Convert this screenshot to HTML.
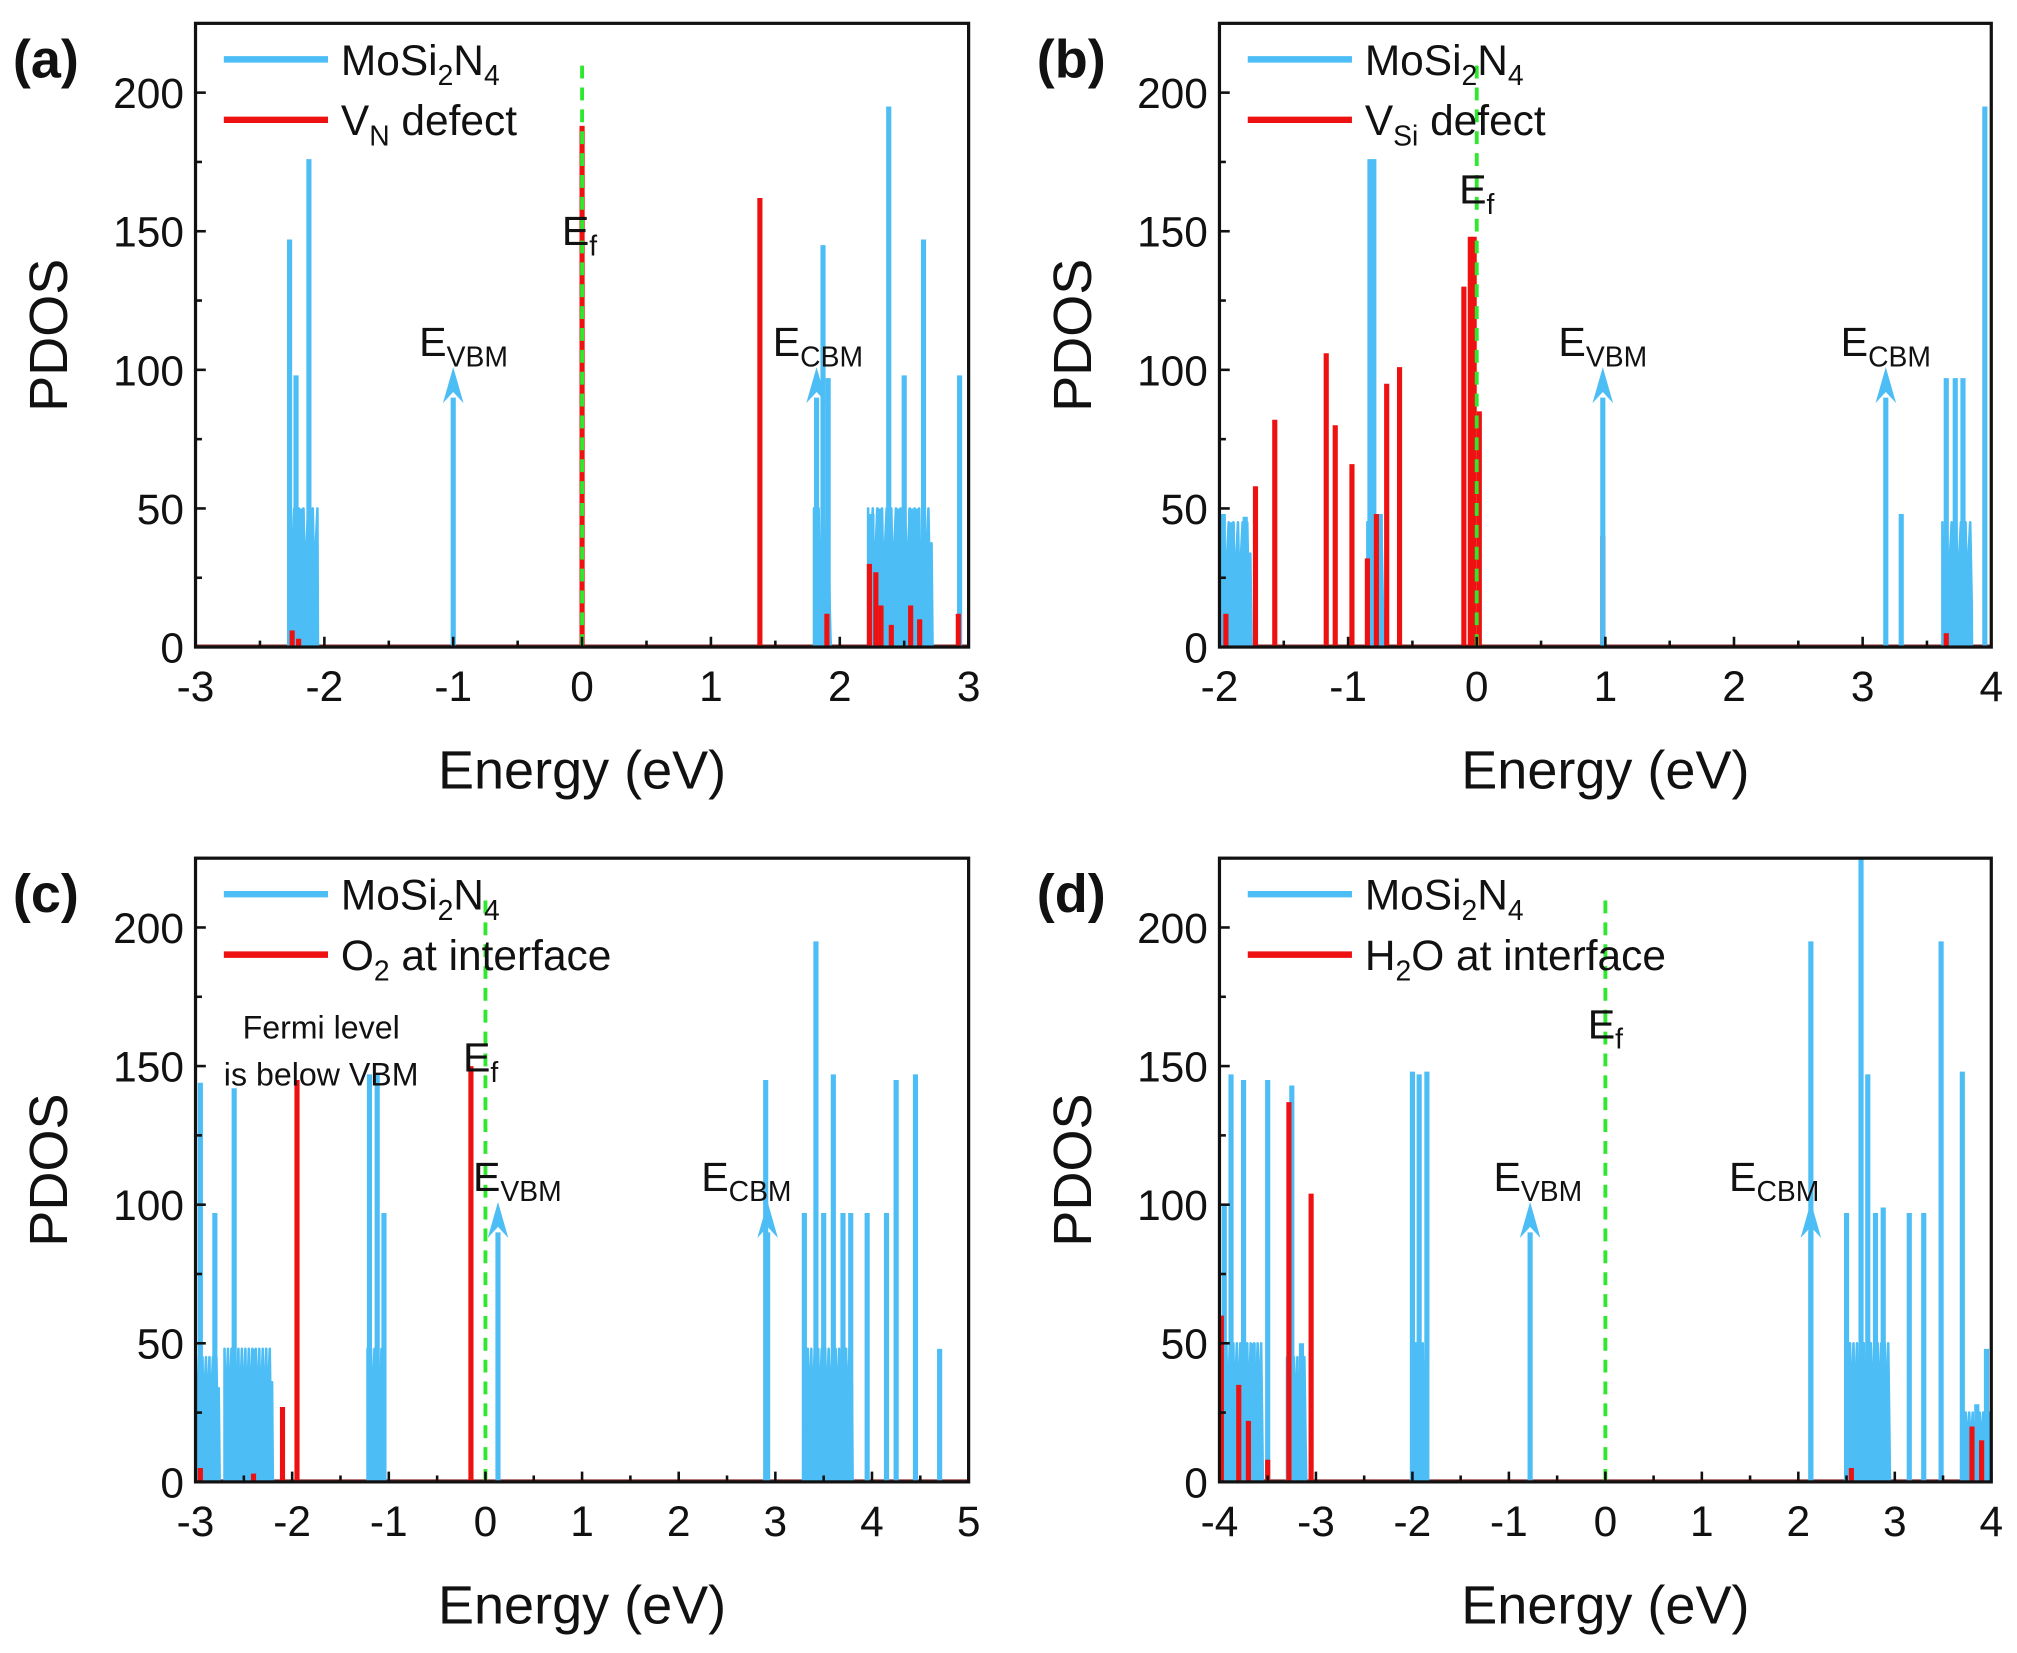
<!DOCTYPE html>
<html><head><meta charset="utf-8"><style>
html,body{margin:0;padding:0;background:#fff;}
svg{display:block;}
text{font-family:"Liberation Sans",Arial,sans-serif;fill:#111;}
</style></head><body>
<svg id="s" width="2017" height="1653" viewBox="0 0 1568 1285" xmlns="http://www.w3.org/2000/svg"></svg>
<script>
const S=document.getElementById('s');let h='';
const B='#4dbdf5',R='#ee1111';
function panel(o){
 const {x0,x1,y0,xmin,xmax,lab}=o;
 const ybot=y0, yt=y0-225*2.155;
 const X=e=>x0+(e-xmin)/(xmax-xmin)*(x1-x0), Y=v=>ybot-v*2.155;
 h+=`<line x1="${x0}" y1="${ybot-1}" x2="${x1}" y2="${ybot-1}" stroke="#8a2a2a" stroke-width="2"/>`;
 o.bfill&&o.bfill.forEach(([a,b,v])=>{let p=`${X(a)},${ybot} `;let i=0;
  for(let e=a;e<=b+1e-9;e+=0.012){const f=(i%3==0)?1:(i%3==1?0.35:0.75);p+=`${X(e)},${Y(v*f)} `;i++;}
  p+=`${X(b)},${ybot}`;h+=`<polygon points="${p}" fill="${B}" stroke="${B}" stroke-width="2" stroke-linejoin="round"/>`;});
 o.blue.forEach(([e,v])=>{h+=`<line x1="${X(e)}" y1="${ybot}" x2="${X(e)}" y2="${Y(v)}" stroke="${B}" stroke-width="4"/>`;});
 o.red.forEach(([e,v])=>{h+=`<line x1="${X(e)}" y1="${ybot}" x2="${X(e)}" y2="${Y(v)}" stroke="${R}" stroke-width="4"/>`;});
 h+=`<line x1="${X(0)}" y1="${ybot}" x2="${X(0)}" y2="${Y(210)}" stroke="#2ee82e" stroke-width="3" stroke-dasharray="10,7"/>`;
 o.arrows.forEach(e=>{const x=X(e);h+=`<line x1="${x}" y1="${ybot}" x2="${x}" y2="${Y(90)}" stroke="${B}" stroke-width="4"/><polygon points="${x-8},${Y(88)} ${x},${Y(101)} ${x+8},${Y(88)} ${x},${Y(92)}" fill="${B}"/>`;});
 h+=`<rect x="${x0}" y="${yt}" width="${x1-x0}" height="${ybot-yt}" fill="none" stroke="#111" stroke-width="2.5"/>`;
 for(let e=xmin;e<=xmax;e++){const x=X(e);h+=`<line x1="${x}" y1="${ybot}" x2="${x}" y2="${ybot-8}" stroke="#111" stroke-width="2"/><text x="${x}" y="${ybot+42}" font-size="33" text-anchor="middle">${e}</text>`;
  if(e<xmax){const xm=X(e+0.5);h+=`<line x1="${xm}" y1="${ybot}" x2="${xm}" y2="${ybot-5}" stroke="#111" stroke-width="2"/>`;}}
 for(let v=0;v<=200;v+=50){const y=Y(v);h+=`<line x1="${x0}" y1="${y}" x2="${x0+8}" y2="${y}" stroke="#111" stroke-width="2"/><text x="${x0-9}" y="${y+12}" font-size="33" text-anchor="end">${v}</text>`;
  const ym=Y(v+25);h+=`<line x1="${x0}" y1="${ym}" x2="${x0+5}" y2="${ym}" stroke="#111" stroke-width="2"/>`;}
 h+=`<text x="${(x0+x1)/2}" y="${ybot+110}" font-size="42" text-anchor="middle">Energy (eV)</text>`;
 h+=`<text transform="translate(${x0-100},${(ybot+yt)/2}) rotate(-90)" font-size="42" text-anchor="middle">PDOS</text>`;
 h+=`<text x="${x0-142}" y="${yt+42}" font-size="42" font-weight="bold">${lab}</text>`;
 h+=`<line x1="${x0+22}" y1="${yt+28}" x2="${x0+103}" y2="${yt+28}" stroke="${B}" stroke-width="5"/><text x="${x0+113}" y="${yt+40}" font-size="33">MoSi<tspan font-size="22" dy="8">2</tspan><tspan dy="-8">N</tspan><tspan font-size="22" dy="8">4</tspan></text>`;
 h+=`<line x1="${x0+22}" y1="${yt+75}" x2="${x0+103}" y2="${yt+75}" stroke="${R}" stroke-width="5"/><text x="${x0+113}" y="${yt+87}" font-size="33">${o.leg}</text>`;
 o.txt.forEach(t=>h+=t(X,Y));
}
const E=(e,v,sub,dx=0)=>(X,Y)=>`<text x="${X(e)+dx}" y="${Y(v)}" font-size="32" text-anchor="middle">E<tspan font-size="22" dy="8">${sub}</tspan></text>`;
panel({x0:152,x1:753,y0:503,xmin:-3,xmax:3,lab:'(a)',leg:'V<tspan font-size="22" dy="8">N</tspan><tspan dy="-8"> defect</tspan>',
 bfill:[[-2.27,-2.05,50],[1.8,1.93,50],[2.22,2.72,50]],
 blue:[[-2.27,147],[-2.22,98],[-2.18,50],[-2.12,176],[1.82,50],[1.87,145],[1.91,97],[2.25,48],[2.3,50],[2.38,195],[2.45,50],[2.5,98],[2.55,50],[2.6,50],[2.65,147],[2.93,98]],
 red:[[0,188],[1.38,162],[-2.25,6],[-2.2,3],[1.9,12],[2.23,30],[2.28,27],[2.32,15],[2.4,8],[2.55,15],[2.62,10],[2.92,12]],
 arrows:[-1,1.82],
 txt:[E(-0.92,105,'VBM'),E(-0.02,145,'f'),E(1.83,105,'CBM')]});
panel({x0:948,x1:1548,y0:503,xmin:-2,xmax:4,lab:'(b)',leg:'V<tspan font-size="22" dy="8">Si</tspan><tspan dy="-8"> defect</tspan>',
 bfill:[[-2,-1.75,45],[-0.85,-0.72,45],[3.62,3.85,45]],
 blue:[[-1.97,48],[-1.9,45],[-1.8,47],[-0.83,176],[-0.8,176],[-0.75,48],[3.3,48],[3.65,97],[3.72,97],[3.78,97],[3.95,195]],
 red:[[-1.95,12],[-1.72,58],[-1.57,82],[-1.17,106],[-1.1,80],[-0.97,66],[-0.85,32],[-0.78,48],[-0.7,95],[-0.6,101],[-0.1,130],[-0.05,148],[-0.02,148],[0.02,85],[0.98,40],[3.65,5]],
 arrows:[0.98,3.18],
 txt:[E(0.98,105,'VBM'),E(0.0,160,'f'),E(3.18,105,'CBM')]});
panel({x0:152,x1:753,y0:1152,xmin:-3,xmax:5,lab:'(c)',leg:'O<tspan font-size="22" dy="8">2</tspan><tspan dy="-8"> at interface</tspan>',
 bfill:[[-3,-2.75,45],[-2.7,-2.2,48],[-1.22,-1.05,48],[3.3,3.8,48]],
 blue:[[-2.95,144],[-2.8,97],[-2.6,142],[-2.4,48],[-1.2,147],[-1.12,147],[-1.05,97],[2.9,145],[3.3,97],[3.42,195],[3.5,97],[3.6,147],[3.7,97],[3.78,97],[3.95,97],[4.15,97],[4.25,145],[4.45,147],[4.7,48]],
 red:[[-1.95,145],[-2.1,27],[-0.15,150],[-2.95,5],[-2.4,3]],
 arrows:[0.13,2.92],
 txt:[E(0.33,105,'VBM'),E(-0.05,148,'f'),E(2.7,105,'CBM'),
 (X,Y)=>`<text x="${X(-1.7)}" y="${Y(160)}" font-size="25" text-anchor="middle">Fermi level</text><text x="${X(-1.7)}" y="${Y(143)}" font-size="25" text-anchor="middle">is below VBM</text>`]});
panel({x0:948,x1:1548,y0:1152,xmin:-4,xmax:4,lab:'(d)',leg:'H<tspan font-size="22" dy="8">2</tspan><tspan dy="-8">O at interface</tspan>',
 bfill:[[-4,-3.55,50],[-3.3,-3.1,45],[-2.0,-1.85,50],[2.5,2.95,50],[3.7,4,25]],
 blue:[[-3.95,100],[-3.88,147],[-3.75,145],[-3.65,50],[-3.5,145],[-3.25,143],[-3.15,50],[-2.0,148],[-1.93,147],[-1.85,148],[2.13,195],[2.5,97],[2.65,225],[2.72,147],[2.8,97],[2.88,99],[3.15,97],[3.3,97],[3.48,195],[3.7,148],[3.85,28],[3.95,48]],
 red:[[-3.28,137],[-3.05,104],[-3.8,35],[-3.7,22],[-3.98,60],[-3.5,8],[3.8,20],[3.9,15],[2.55,5]],
 arrows:[-0.78,2.13],
 txt:[E(-0.7,105,'VBM'),E(0,160,'f'),E(1.75,105,'CBM')]});
S.innerHTML=h;
</script>
</body></html>
